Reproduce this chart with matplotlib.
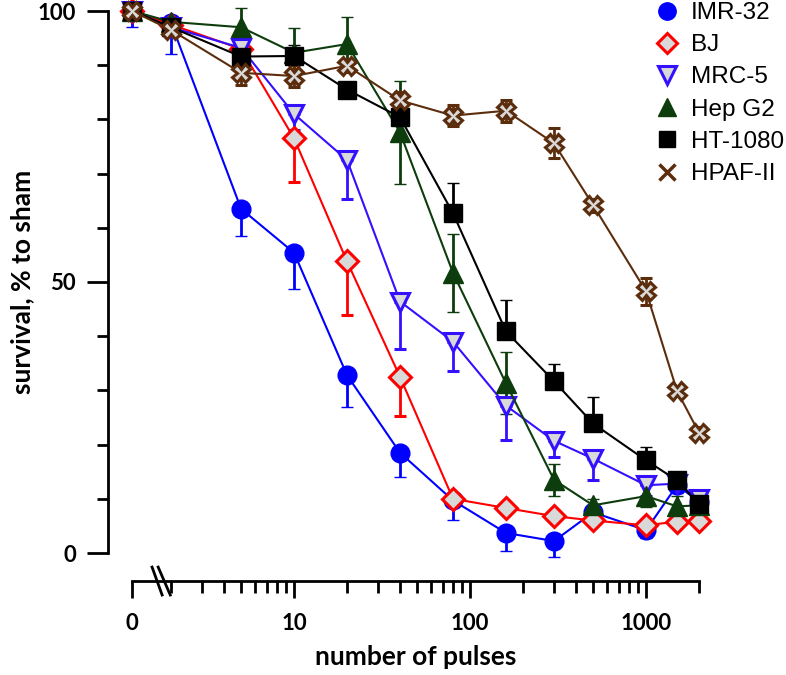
import numpy as np
import matplotlib
matplotlib.use("Agg")
import matplotlib.pyplot as plt
from matplotlib.lines import Line2D
from matplotlib.ticker import FixedLocator, FixedFormatter, NullFormatter

plt.rcParams['font.family'] = ['Lato', 'DejaVu Sans']

# number of pulses (0 is drawn left of the axis break)
pulses = [0, 2, 5, 10, 20, 40, 80, 160, 300, 500, 1000, 1500, 2000]

imr32 = [100, 97.8, 63.5, 55.4, 32.8, 18.5, 9.7, 3.7, 2.2, 7.5, 4.2, 12.5, 9.5]
imr32_err = [3, 5.8, 5.1, 6.6, 5.8, 4.5, 3.7, 3.3, 3, 1.5, 1.5, 1.5, 1.5]

bj = [100, 97.5, 93, 76.5, 53.8, 32.5, 10, 8.3, 6.8, 6, 5.1, 5.8, 5.9]
bj_err = [1, 1, 1.5, 8, 9.8, 7.2, 1, 0.8, 0.8, 0.8, 0.8, 0.8, 0.8]

mrc5 = [100, 97, 93.2, 81, 72.5, 46.4, 39, 27.2, 20.7, 17.4, 12.5, 12.8, 10]
mrc5_err = [1, 1.5, 1.5, 3, 7.2, 8.8, 5.5, 6.4, 3, 4, 2, 1.5, 1.5]

hepg2 = [100, 98, 97, 92.3, 93.9, 77.6, 51.7, 31.3, 13.5, 8.8, 10.5, 8.6, 8.8]
hepg2_err = [1, 1, 3.5, 4.5, 5, 9.5, 7.2, 5.7, 3, 1.2, 2, 2, 1]

ht1080 = [100, 97, 91.6, 91.7, 85.5, 80.4, 62.7, 40.9, 31.7, 23.9, 17.1, 13.4, 9]
ht1080_err = [1, 1, 2, 2, 1, 1.5, 5.5, 5.7, 3.2, 4.9, 2.5, 1.5, 1]

hpaf2 = [100, 96.5, 88.6, 88, 89.9, 83.5, 80.7, 81.6, 75.6, 64.2, 48.3, 29.9, 22.2]
hpaf2_err = [1, 1, 2.2, 2, 1.2, 1.5, 2, 2, 2.8, 1.2, 2.5, 1, 1]

labels = ['IMR-32', 'BJ', 'MRC-5', 'Hep G2', 'HT-1080', 'HPAF-II']

ZERO_POS = 1.2   # where "0" sits on the log axis
gray = '#d9d9d9'
brown = '#5c2d0c'
green = '#0d3d0d'

xs = np.array([ZERO_POS if p == 0 else p for p in pulses], dtype=float)
z = np.zeros(len(pulses))

# (values, lower err, upper err, color, marker, size, face)
series = [
    (imr32, imr32_err, z, '#0000ff', 'o', 13.5, '#0000ff'),
    (bj, bj_err, z, '#ff0000', 'D', 11, gray),
    (mrc5, mrc5_err, z, '#3311ff', 'v', 13.5, gray),
    (hepg2, hepg2_err, hepg2_err, green, '^', 14, green),
    (ht1080, z, ht1080_err, 'black', 's', 12.5, 'black'),
    (hpaf2, hpaf2_err, hpaf2_err, brown, 'X', 12.5, gray),
]

fig = plt.figure(figsize=(7.86, 6.75), dpi=100)
ax = fig.add_axes([132/786, 1-553/675, 567/786, 542/675])

for vals, lo, hi, col, mk, ms, fc in series:
    c = ax.errorbar(xs, vals, yerr=[lo, hi], color=col, lw=1.5, marker=mk, ms=ms,
                    mfc=fc, mec=col, mew=2.2 if fc == gray else 1,
                    ecolor=col, elinewidth=2, capsize=4, capthick=2)
    for a in c.get_children():
        a.set_clip_on(False)

ax.set_xscale('log')
ax.set_xlim(ZERO_POS, 2000)
ax.set_ylim(0, 100)

for s in ['top', 'right']:
    ax.spines[s].set_visible(False)
ax.spines['left'].set_position(('outward', 17.3))
ax.spines['bottom'].set_position(('outward', 20.2))
for s in ['left', 'bottom']:
    ax.spines[s].set_linewidth(2)

ax.xaxis.set_major_locator(FixedLocator([ZERO_POS, 10, 100, 1000]))
ax.xaxis.set_major_formatter(FixedFormatter(['0', '10', '100', '1000']))
minors = [m * d for d in (1, 10, 100) for m in range(2, 10)] + [2000]
ax.xaxis.set_minor_locator(FixedLocator(minors))
ax.xaxis.set_minor_formatter(NullFormatter())
ax.set_yticks([0, 50, 100])
ax.set_yticks(range(10, 100, 10), minor=True)

ax.tick_params(axis='x', which='major', length=12, width=2, pad=11, labelsize=16)
ax.tick_params(axis='x', which='minor', length=8.5, width=2)
ax.tick_params(axis='y', which='major', length=15, width=2, pad=8, labelsize=16)
ax.tick_params(axis='y', which='minor', length=8, width=2)
for t in ax.get_xticklabels() + ax.get_yticklabels():
    t.set_fontweight('bold')

# axis break marks
tr = ax.get_xaxis_transform()
ax.plot([1.56, 1.78], [-0.026, -0.0775], color='black', lw=2, transform=tr, clip_on=False)
ax.plot([1.69, 1.98], [-0.026, -0.0775], color='black', lw=2, transform=tr, clip_on=False)

fig.text(22/786, 1-282/675, 'survival, % to sham', rotation=90, ha='center', va='center',
         fontsize=19, fontweight='bold')
fig.text(416/786, 1-657/675, 'number of pulses', ha='center', va='center',
         fontsize=19, fontweight='bold')

handles = []
for vals, lo, hi, col, mk, ms, fc in series:
    if mk == 'X':
        handles.append(Line2D([], [], ls='none', marker='x', ms=11.5, mew=2.5, color=col))
    else:
        handles.append(Line2D([], [], ls='none', marker=mk, ms=ms - 1, mfc=fc, mec=col,
                              mew=2.2 if fc == gray else 1))
fig.legend(handles, labels, loc='upper left', bbox_to_anchor=(655/786, 1 - 2/675), frameon=False,
           borderpad=0, borderaxespad=0, handlelength=1.0, handletextpad=0.48,
           labelspacing=0.42, prop={'family': 'Liberation Sans', 'size': 17.5})

fig.savefig('out.png', dpi=100)
